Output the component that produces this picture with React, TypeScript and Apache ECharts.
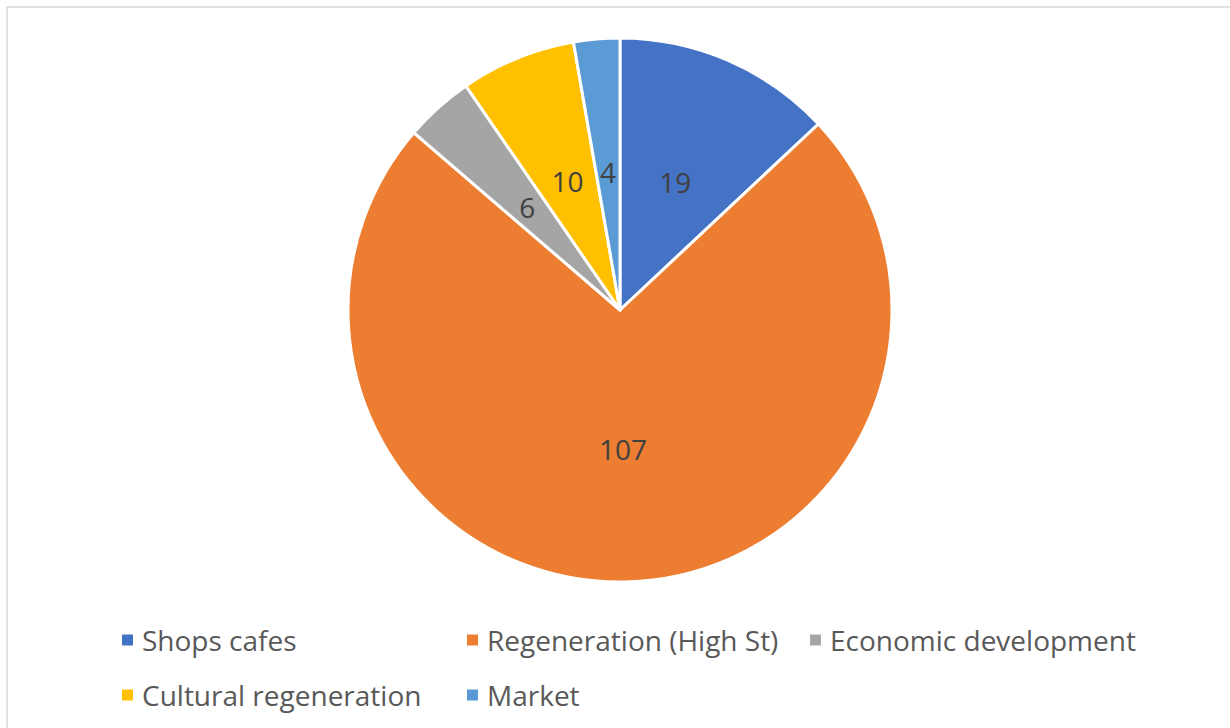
import React, { useEffect, useRef } from "react";
import * as echarts from "echarts";

const categories = ["Shops cafes", "Regeneration (High St)", "Economic development", "Cultural regeneration", "Market"];
const values = [19, 107, 6, 10, 4];
const colors = ["#4472C4", "#ED7D31", "#A5A5A5", "#FFC000", "#5B9BD5"];
const legendLeft = [120, 465, 808, 120, 465];
const legendTop = [625, 625, 625, 680, 680];

export default function App() {
  const ref = useRef<HTMLDivElement>(null);
  useEffect(() => {
    const chart = echarts.init(ref.current!, null, { renderer: "svg" });
    const font = "'Open Sans', 'Noto Sans', sans-serif";
    chart.setOption({
      animation: false,
      color: colors,
      textStyle: { fontFamily: font },
      graphic: [
        {
          type: "rect",
          shape: { x: 7, y: 7, width: 1260, height: 760 },
          style: { fill: "none", stroke: "#d9d9d9", lineWidth: 1.5 },
          silent: true,
          z: -1,
        },
      ],
      legend: categories.map((c, i) => ({
        data: [c],
        left: legendLeft[i],
        top: legendTop[i],
        padding: 0,
        icon: "rect",
        itemWidth: 13,
        itemHeight: 13,
        selectedMode: false,
        textStyle: {
          fontFamily: font,
          fontSize: 28,
          color: "#595959",
          lineHeight: 30,
          padding: [0, 0, 0, 3],
        },
      })),
      series: [
        {
          type: "pie",
          center: [620, 310],
          radius: [0, 272],
          startAngle: 90,
          clockwise: true,
          data: categories.map((c, i) => ({ name: c, value: values[i] })),
          itemStyle: { borderColor: "#ffffff", borderWidth: 3 },
          label: {
            show: true,
            position: "inside",
            formatter: "{c}",
            fontFamily: font,
            fontSize: 28,
            color: "#404040",
          },
          labelLine: { show: false },
          emphasis: { disabled: true },
        },
      ],
    });
    return () => chart.dispose();
  }, []);
  return (
    <div
      ref={ref}
      style={{ position: "absolute", left: 0, top: 0, width: 1230, height: 728, background: "#ffffff" }}
    />
  );
}
